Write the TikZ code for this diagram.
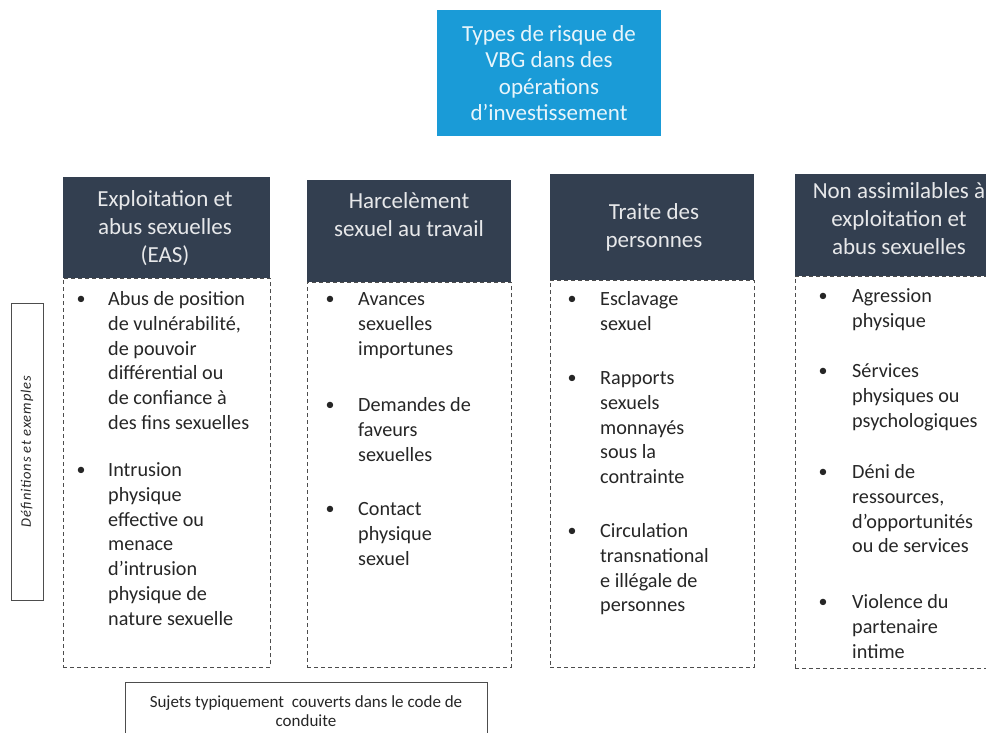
\documentclass[tikz,border=0pt]{standalone}
\usepackage{fontspec}
\setmainfont{Carlito}
\usepackage{tikz}
\usetikzlibrary{positioning,calc}
\definecolor{vbgblue}{HTML}{1A9BD7}
\definecolor{vbgnavy}{HTML}{333F50}
\definecolor{vbgtext}{HTML}{262626}
\definecolor{vbgline}{HTML}{4D4D4D}

\begin{document}
\begin{tikzpicture}[x=1pt,y=-1pt,
  titlebox/.style={fill=vbgblue,text=white!90!vbgblue,align=center,inner sep=0pt,
    font=\fontsize{23}{26.5}\selectfont},
  hdrbox/.style={fill=vbgnavy,inner sep=0pt},
  hdrtext/.style={text=white!88!vbgnavy,align=center,inner sep=0pt,
    font=\fontsize{23}{28}\selectfont},
  bodybox/.style={draw=vbgline,dash pattern=on 4pt off 3pt,line width=0.9pt,inner sep=0pt},
  bul/.style={text=vbgtext,inner sep=0pt,font=\fontsize{18}{24.8}\selectfont},
  itemtext/.style={text=vbgtext,align=left,anchor=north west,inner sep=0pt,
    font=\fontsize{20.2}{24.8}\selectfont},
  sidebox/.style={draw=vbgline,line width=0.9pt,inner sep=0pt},
]
\useasboundingbox (0,0) rectangle (986,732);
\clip (0,0) rectangle (986,732);

% titre
\node[titlebox,minimum width=224,minimum height=126] (types) at (549,73)
  {Types de risque de\\VBG dans des\\opérations\\d’investissement};

% cadres pointilles
\node[bodybox,minimum width=207,minimum height=389,anchor=north] (b1) at (166.5,278) {};
\node[bodybox,minimum width=204,minimum height=385,anchor=north] (b2) at (409,282) {};
\node[bodybox,minimum width=204,minimum height=387,anchor=north] (b3) at (652,280) {};
\node[bodybox,minimum width=205,minimum height=392,anchor=north] (b4) at (897.5,276) {};

% en-tetes
\node[hdrbox,minimum width=207,minimum height=101] (h1) at (166.5,227.5) {};
\node[hdrbox,minimum width=204,minimum height=102] (h2) at (409,231) {};
\node[hdrbox,minimum width=204,minimum height=106] (h3) at (652,227) {};
\node[hdrbox,minimum width=205,minimum height=102] (h4) at (897.5,225) {};
\node[hdrtext] (eas) at (165,228) {Exploitation et\\abus sexuelles\\(EAS)};
\node[hdrtext] (harc) at (409,214.5) {Harcelèment\\sexuel au travail};
\node[hdrtext] (traite) at (654,227.5) {Traite des\\personnes};
\node[hdrtext] (nonass) at (899,219) {Non assimilables à\\exploitation et\\abus sexuelles};

% listes
\foreach \y/\t [count=\i] in {300/{Abus de position\\de vulnérabilité,\\de pouvoir\\différential ou\\de confiance à\\des fins sexuelles},
    471/{Intrusion\\physique\\effective ou\\menace\\d’intrusion\\physique de\\nature sexuelle}}{
  \node[bul] (c1b\i) at (81,\y) {•};
  \node[itemtext] (c1t\i) at (108,\y-12) {\strut\t};
}
\foreach \y/\t [count=\i] in {300/{Avances\\sexuelles\\importunes},
    406/{Demandes de\\faveurs\\sexuelles},
    510/{Contact\\physique\\sexuel}}{
  \node[bul] (c2b\i) at (330,\y) {•};
  \node[itemtext] (c2t\i) at (358,\y-12) {\strut\t};
}
\foreach \y/\t [count=\i] in {300/{Esclavage\\sexuel},
    379/{Rapports\\sexuels\\monnayés\\sous la\\contrainte},
    532/{Circulation\\transnational\\e illégale de\\personnes}}{
  \node[bul] (c3b\i) at (572,\y) {•};
  \node[itemtext] (c3t\i) at (600,\y-12) {\strut\t};
}
\foreach \y/\t [count=\i] in {297/{Agression\\physique},
    372/{Sérvices\\physiques ou\\psychologiques},
    473/{Déni de\\ressources,\\d’opportunités\\ou de services},
    603/{Violence du\\partenaire\\intime}}{
  \node[bul] (c4b\i) at (823,\y) {•};
  \node[itemtext] (c4t\i) at (852,\y-12) {\strut\t};
}

% cadre lateral
\node[sidebox,minimum width=32,minimum height=297] (side) at (27,451.5) {};
\node[rotate=90,text=vbgtext,inner sep=0pt,
  font=\fontsize{14.5}{16}\selectfont\itshape\addfontfeature{LetterSpace=6}] (defex) at (side) {Définitions et exemples};

% cadre du bas
\node[sidebox,minimum width=362,minimum height=70,anchor=north] (code) at (306,682) {};
\node[text=vbgtext,align=center,inner sep=0pt,font=\fontsize{17}{19.5}\selectfont] (codetxt) at (306,711)
  {Sujets typiquement~ couverts dans le code de\\conduite};
\end{tikzpicture}
\end{document}
